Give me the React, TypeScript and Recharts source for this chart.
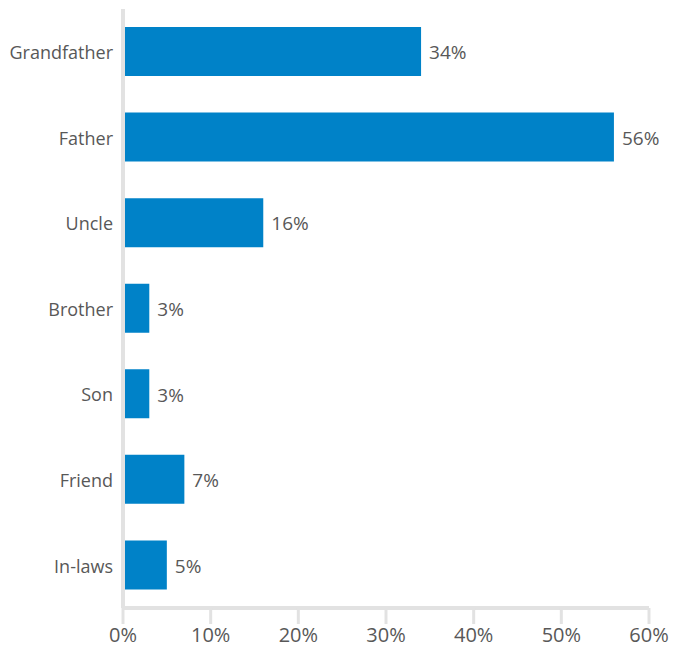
import React from "react";
import { Bar, BarChart, LabelList, XAxis, YAxis } from "recharts";

const relations = ["Grandfather", "Father", "Uncle", "Brother", "Son", "Friend", "In-laws"];
const shares = [34, 56, 16, 3, 3, 7, 5];
const xTicks = [0, 10, 20, 30, 40, 50, 60];

const data = relations.map((name, i) => ({ name, value: shares[i] }));

const axisGray = "#e2e2e2";
const textGray = "#585858";

export default function App() {
  return (
    <div style={{ position: "absolute", left: 0, top: 0, fontFamily: "'Open Sans', sans-serif" }}>
      <BarChart
        width={685}
        height={652}
        data={data}
        layout="vertical"
        margin={{ top: 9, right: 36, bottom: 0, left: 0 }}
        barCategoryGap={18}
      >
        <XAxis
          type="number"
          domain={[0, 60]}
          ticks={xTicks}
          tickFormatter={(v) => `${v}%`}
          height={44}
          axisLine={{ stroke: axisGray, strokeWidth: 4 }}
          tickLine={{ stroke: axisGray, strokeWidth: 3 }}
          tickSize={16}
          tickMargin={4}
          tick={{ fill: textGray, fontSize: 20 }}
          interval={0}
        />
        <YAxis
          type="category"
          dataKey="name"
          width={123}
          axisLine={{ stroke: axisGray, strokeWidth: 4 }}
          tickLine={false}
          tickSize={0}
          tickMargin={10}
          tick={{ fill: textGray, fontSize: 18, dy: 1 }}
          interval={0}
        />
        <Bar dataKey="value" fill="#0082c8" barSize={49} isAnimationActive={false}>
          <LabelList
            dataKey="value"
            position="right"
            offset={8}
            formatter={(v: number) => `${v}%`}
            style={{ fill: textGray, fontSize: 19 }}
            dy={1}
          />
        </Bar>
      </BarChart>
    </div>
  );
}
